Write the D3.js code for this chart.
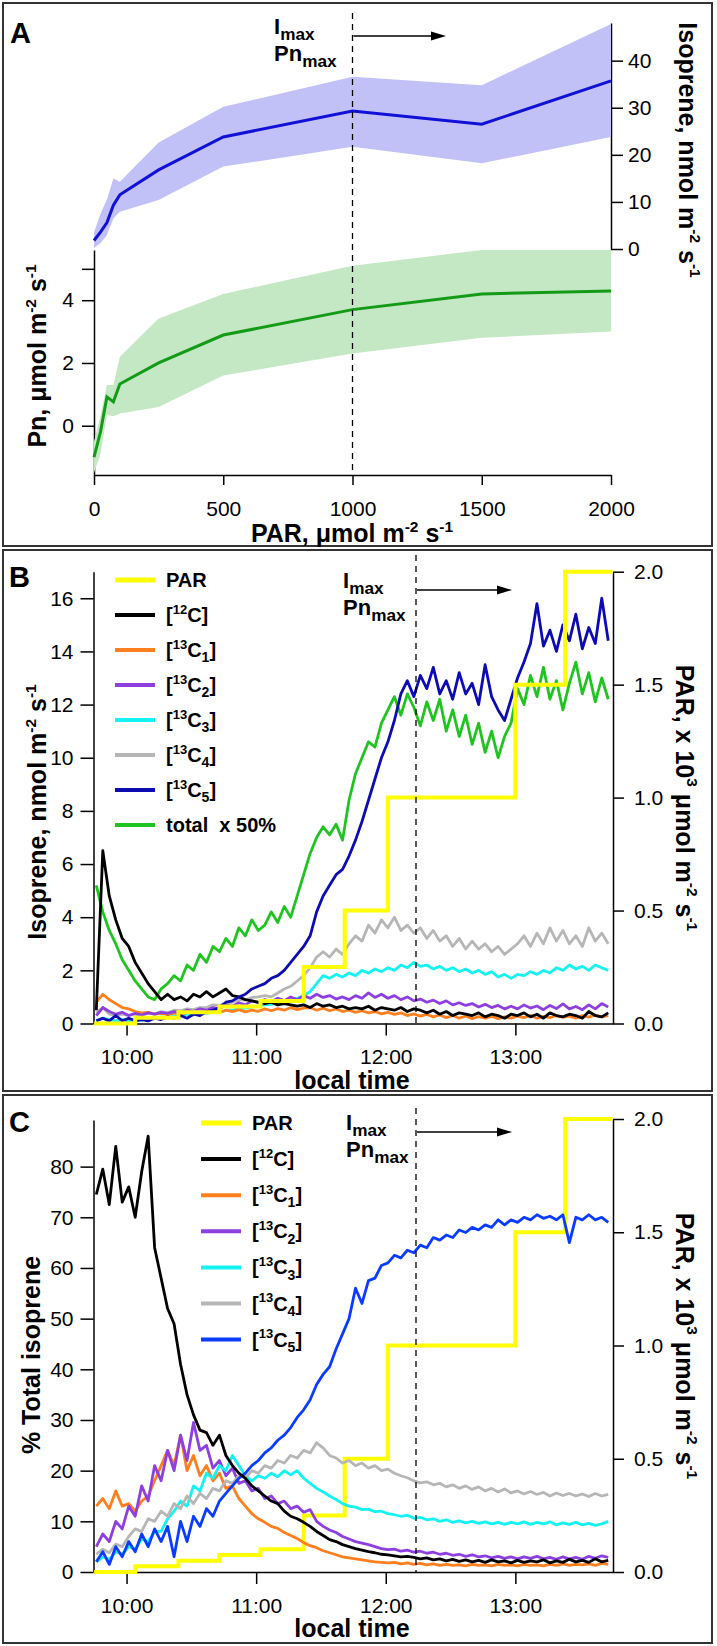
<!DOCTYPE html>
<html>
<head>
<meta charset="utf-8">
<script src="https://cdn.jsdelivr.net/npm/d3@7"></script>
<style>
body { margin: 0; background: #fff; }
</style>
</head>
<body>
<svg id="fig" width="717" height="1646"></svg>
<script>
// ---------- panel A: light response ----------
var parLevelsA = [0, 25, 50, 75, 100, 250, 500, 1000, 1500, 2000];
var isopreneMean = [1.8, 3.6, 5.6, 9.3, 11.5, 16.8, 23.8, 29.3, 26.5, 35.7];
var isopreneHigh = [3.5, 7.5, 10.5, 15.0, 14.3, 22.6, 30.2, 36.6, 34.8, 47.8];
var isopreneLow = [0.2, 1.2, 3.0, 6.5, 7.9, 10.4, 17.5, 21.7, 18.2, 23.8];
var pnMean = [-1.0, -0.2, 0.92, 0.76, 1.33, 2.0, 2.89, 3.7, 4.2, 4.29];
var pnHigh = [-0.5, 0.3, 1.3, 1.3, 2.2, 3.42, 4.2, 5.1, 5.6, 5.6];
var pnLow = [-1.5, -0.9, 0.34, 0.3, 0.39, 0.6, 1.6, 2.3, 2.8, 3.0];

// ---------- PAR program (x 10^3 umol m-2 s-1) ----------
var parStepStart = ["9:45", "10:04", "10:24", "10:43", "11:02", "11:22", "11:41", "12:01", "13:00", "13:23", "13:45"];
var parStepLevel = [0, 0.025, 0.05, 0.075, 0.1, 0.25, 0.5, 1.0, 1.5, 2.0, 2.0];
var imaxTime = "12:14";

// readings every 3 min starting 9:46
var firstSample = "9:46", sampleStep = 3;

// ---------- panel B: isoprene, nmol m-2 s-1 ----------
var isoB12C = [0.5,6.5,4.8,3.9,3.2,2.9,2.3,1.9,1.5,1.2, 0.9,1.1,0.9,1.0,0.85,1.1,1.0,1.2,1.0,1.15,
  1.3,1.05,1.0,0.9,0.85,0.8,0.75,0.8,0.7,0.75, 0.7,0.65,0.7,0.6,0.75,0.65,0.7,0.6,0.65,0.55,
  0.6,0.55,0.65,0.5,0.6,0.55,0.5,0.6,0.45,0.55, 0.5,0.4,0.5,0.35,0.45,0.3,0.4,0.35,0.3,0.4,
  0.25,0.35,0.3,0.2,0.35,0.3,0.4,0.25,0.35,0.2, 0.4,0.3,0.25,0.35,0.3,0.2,0.45,0.3,0.25,0.4];
var isoB13C1 = [0.8,1.1,0.9,0.75,0.6,0.55,0.45,0.4,0.42,0.35, 0.38,0.33,0.4,0.35,0.42,0.38,0.45,0.4,0.5,0.42,
  0.5,0.45,0.52,0.44,0.5,0.46,0.55,0.48,0.56,0.5, 0.6,0.52,0.58,0.6,0.5,0.58,0.48,0.55,0.45,0.5,
  0.42,0.48,0.4,0.45,0.36,0.42,0.34,0.4,0.3,0.36, 0.28,0.34,0.25,0.32,0.22,0.3,0.2,0.28,0.18,0.26,
  0.2,0.27,0.18,0.25,0.2,0.28,0.22,0.3,0.2,0.27, 0.22,0.3,0.24,0.28,0.2,0.3,0.24,0.32,0.25,0.3];
var isoB13C2 = [0.3,0.6,0.45,0.35,0.42,0.3,0.38,0.32,0.4,0.35, 0.42,0.38,0.45,0.4,0.5,0.45,0.55,0.5,0.6,0.55,
  0.7,0.65,0.78,0.7,0.85,0.78,0.9,0.82,0.95,0.86, 1.0,0.9,1.05,0.95,1.1,0.98,1.05,0.92,1.0,0.9,
  1.05,0.95,1.15,0.98,1.1,0.95,1.05,0.9,1.0,0.85, 0.92,0.8,0.88,0.75,0.85,0.7,0.78,0.68,0.75,0.62,
  0.72,0.6,0.68,0.55,0.65,0.55,0.7,0.58,0.66,0.52, 0.68,0.56,0.74,0.55,0.64,0.52,0.7,0.55,0.75,0.62];
var isoB13C3 = [0.1,0.2,0.15,0.1,0.15,0.1,0.15,0.12,0.2,0.18, 0.25,0.22,0.3,0.28,0.35,0.32,0.4,0.38,0.45,0.42,
  0.5,0.5,0.55,0.58,0.62,0.65,0.7,0.72,0.78,0.82, 0.88,0.95,1.05,1.2,1.5,1.8,1.7,1.85,1.75,1.9,
  1.8,2.0,1.9,2.05,1.95,2.1,2.0,2.2,2.1,2.3, 2.15,2.2,2.05,2.15,2.0,2.1,1.95,2.05,1.9,2.0,
  1.85,1.95,1.75,1.85,1.7,1.85,1.8,1.95,1.85,2.0, 1.9,2.1,2.0,2.2,2.05,2.15,2.0,2.2,2.1,2.0];
var isoB13C4 = [0.4,0.6,0.35,0.3,0.35,0.3,0.35,0.3,0.4,0.35, 0.45,0.4,0.5,0.48,0.55,0.52,0.6,0.6,0.7,0.68,
  0.78,0.8,0.9,0.88,0.98,1.0,1.05,1.0,1.15,1.3, 1.4,1.6,1.8,2.1,2.5,2.7,2.5,2.8,2.6,3.0,
  3.3,3.1,3.7,3.4,3.9,3.6,4.0,3.5,3.7,3.4, 3.6,3.2,3.5,3.1,3.3,2.9,3.2,2.8,3.1,2.8,
  3.0,2.7,2.9,2.6,2.8,3.0,3.3,2.9,3.4,3.0, 3.6,3.1,3.5,3.0,3.3,2.9,3.6,3.1,3.4,3.0];
var isoB13C5 = [0.1,0.2,0.1,0.3,0.1,0.2,0.1,0.15,0.1,0.2, 0.15,0.25,0.2,0.3,0.2,0.35,0.3,0.45,0.5,0.6,
  0.8,0.85,1.0,1.1,1.3,1.4,1.5,1.7,1.8,2.0, 2.3,2.6,2.9,3.3,4.2,4.8,5.2,5.6,5.8,6.3,
  6.9,7.6,8.4,9.2,10.0,10.6,11.4,12.4,12.9,12.3, 13.1,12.6,13.4,12.4,12.9,12.2,13.2,12.4,12.8,12.0,
  13.5,12.3,11.8,11.4,12.2,13.0,13.6,14.3,15.8,14.2, 14.8,14.0,15.0,14.4,15.4,14.1,14.9,14.3,16.0,14.4];
var isoBTotalHalf = [5.2,4.2,3.5,3.0,2.4,2.0,1.6,1.3,1.0,0.9, 1.3,1.5,1.8,1.6,2.2,2.0,2.6,2.3,2.9,2.7,
  3.2,2.9,3.6,3.3,3.9,3.5,3.7,4.2,3.8,4.4, 4.0,4.8,5.6,6.4,7.0,7.4,7.1,7.5,6.9,8.4,
  9.4,10.0,10.6,10.4,11.3,11.8,12.3,11.6,12.4,11.9, 11.2,12.1,11.4,12.2,11.0,11.8,10.8,11.6,10.5,11.3,
  10.2,11.0,10.0,10.8,11.3,12.6,12.0,13.1,12.3,13.4, 12.2,12.9,11.8,12.8,13.6,12.4,13.2,12.1,13.0,12.2];

// ---------- panel C: % of total isoprene ----------
var pctC12C = [74.5,79.5,72.5,84,73,76,70,79,86,64, 58,52,49,41,35,31,28,27.5,25,27,
  23,21,19.5,18.5,17,16,15,14,13.5,12, 11,10.5,9.8,9.0,8.0,7.2,6.4,6.0,5.4,5.0,
  4.6,4.3,4.0,3.8,3.5,3.4,3.2,3.0,3.1,2.9, 2.6,2.8,2.4,2.6,2.2,2.5,2.1,2.4,2.0,2.3,
  1.9,2.4,2.0,2.2,1.8,2.3,1.9,2.2,2.0,2.4, 1.8,2.2,1.9,2.5,2.0,2.3,1.9,2.6,2.0,2.3];
var pctC13C1 = [13,14.5,12.5,16,13,13.5,12,14,15,18, 21,24,21,27,20,23,19,21,18,19.5,
  16.5,17,14.5,13,11.5,10.5,9.8,9.0,8.6,7.8, 7.2,6.6,5.8,5.2,4.8,4.2,3.8,3.4,3.0,2.8,
  2.6,2.4,2.2,2.0,1.9,1.8,1.9,1.6,1.8,1.5, 1.7,1.4,1.6,1.3,1.5,1.3,1.4,1.2,1.5,1.3,
  1.4,1.2,1.5,1.3,1.4,1.2,1.5,1.3,1.4,1.2, 1.5,1.3,1.6,1.3,1.5,1.4,1.6,1.3,1.7,1.5];
var pctC13C2 = [5,7.5,6,10,8.5,13,11,17,14,21, 18,24,20,27,22,29.5,24,25,20.5,22,
  19,20.5,17.5,18,16,16.5,14.5,15,13.5,14, 12.5,13,11.8,12.3,10,9,8.3,7.8,7.0,6.5,
  6.0,5.7,5.4,5.0,4.6,4.4,4.5,4.1,4.3,3.9, 4.1,3.7,3.9,3.5,3.7,3.3,3.5,3.1,3.4,3.0,
  3.2,2.8,3.1,2.7,3.0,2.6,3.0,2.7,3.1,2.6, 2.9,2.5,3.0,2.6,2.9,2.5,3.1,2.7,3.2,2.9];
var pctC13C3 = [2,3,2.5,4,3.5,5,4.5,6.5,6,8, 8,10.5,12,14,13,17,16,19.5,18.5,21,
  20,23,21,19,18,19,18.5,19.5,18.8,20, 19.2,20,18.5,17.5,16.5,15.8,15,14.3,13.5,13,
  12.8,12.3,12.4,11.9,12.0,11.5,11.3,11.0,11.2,10.6, 10.8,10.3,10.5,10.0,10.3,9.8,10.1,9.7,10.0,9.6,
  9.9,9.5,9.8,9.4,9.8,9.5,9.9,9.4,9.8,9.5, 9.9,9.3,9.7,9.4,9.8,9.3,9.6,9.2,9.5,10.0];
var pctC13C4 = [3.5,4.5,3.8,5.5,5,7,8.5,8,10.5,10, 12,11,13.5,12.5,15,13.5,15.5,14.5,16.5,16,
  18,17.5,19,18.5,20,19.5,21,20.5,22,21.5, 23,22.5,24,23.5,25.5,24.5,23,22.5,21.5,22,
  21,21.5,20.5,21,20,20.3,19.5,19,18.6,18, 17.6,17.8,17.2,17.5,16.8,17.2,16.5,17,16.3,16.8,
  16.0,16.5,15.8,16.4,15.6,16,15.4,15.9,15.3,15.7, 15.0,15.6,15.1,15.5,15.0,15.4,14.9,15.5,15.0,15.3];
var pctC13C5 = [2,4,1.5,5,3,6,4,7.5,5,8.5, 6,9,3,10,6,11,9,12.5,11,14,
  15.5,17,18.5,19.5,21,22,23.5,24.5,26,27, 28.5,30.5,32,34,37,39,40.5,44,47,50,
  56,53,57.5,58,60.5,61,62.5,62,63.5,63, 64.5,64,66,65.5,66.5,66,67.5,67,68,67.5,
  68.5,68,69.5,68.5,69.5,69,70,69.5,70.5,69.8, 70.2,69.5,70.5,65,70,69.5,70.5,69.5,70,69];

var FONT = '"Liberation Sans", Arial, Helvetica, sans-serif';
var svg = d3.select("#fig").attr("font-family", FONT);

var hours = function (s) {
    var p = s.split(":");
    return +p[0] + (+p[1]) / 60;
};
var sampleTimes = isoB12C.map(function (d, i) {
    return hours(firstSample) + i * sampleStep / 60;
});

// text with ^{sup} and _{sub} parts
var richText = function (parent, x, y, str, size, opts) {
    opts = opts || {};
    var t = parent.append("text")
        .attr("x", x)
        .attr("y", y)
        .attr("font-size", size)
        .attr("font-weight", opts.weight || "bold")
        .attr("text-anchor", opts.anchor || "start")
        .attr("fill", "#000")
        .style("white-space", "pre");
    if (opts.rotate) t.attr("transform", `rotate(${opts.rotate},${x},${y})`);
    var shift = 0;
    str.split(/(\^\{[^}]*\}|_\{[^}]*\})/).forEach(function (piece) {
        if (!piece) return;
        var target = 0, fs = size, s = piece;
        if (piece[0] === "^") {
            target = -0.42 * size; fs = (opts.supScale || 0.62) * size; s = piece.slice(2, -1);
        } else if (piece[0] === "_") {
            target = 0.26 * size; fs = (opts.subScale || 0.7) * size; s = piece.slice(2, -1);
        }
        t.append("tspan").attr("dy", target - shift).attr("font-size", fs).text(s);
        shift = target;
    });
    return t;
};

var axisAt = function (axis, tx, ty) {
    var g = svg.append("g").attr("transform", `translate(${tx},${ty})`).call(axis);
    g.attr("font-family", FONT).attr("font-size", 21);
    g.selectAll(".domain, .tick line").attr("stroke", "#000").attr("stroke-width", 1.5);
    g.selectAll(".tick text").attr("fill", "#000");
    return g;
};

var frame = function (y0, y1) {
    svg.append("rect")
        .attr("x", 3).attr("y", y0)
        .attr("width", 709).attr("height", y1 - y0)
        .attr("fill", "none")
        .attr("stroke", "#333")
        .attr("stroke-width", 2);
};

var imaxMarker = function (x, yTop, yBottom, arrowY, arrowEnd, textX) {
    svg.append("line")
        .attr("x1", x).attr("x2", x).attr("y1", yTop).attr("y2", yBottom)
        .attr("stroke", "#000").attr("stroke-width", 1.3).attr("stroke-dasharray", "6,5");
    svg.append("line")
        .attr("x1", x + 1).attr("x2", arrowEnd - 12).attr("y1", arrowY).attr("y2", arrowY)
        .attr("stroke", "#000").attr("stroke-width", 1.6);
    svg.append("path")
        .attr("d", `M${arrowEnd},${arrowY}L${arrowEnd - 15},${arrowY - 4.5}L${arrowEnd - 15},${arrowY + 4.5}Z`)
        .attr("fill", "#000");
    richText(svg, textX, arrowY - 2, "I_{max}", 22, { subScale: 0.78 });
    richText(svg, textX, arrowY + 25, "Pn_{max}", 22, { subScale: 0.78 });
};

var legend = function (x0, y0, rowH, items) {
    items.forEach(function (item, k) {
        var y = y0 + k * rowH;
        svg.append("line")
            .attr("x1", x0).attr("x2", x0 + 40).attr("y1", y).attr("y2", y)
            .attr("stroke", item.color).attr("stroke-width", item.width || 4);
        richText(svg, x0 + 51, y + 7, item.label, 20, { supScale: 0.65 });
    });
};

var seriesLine = function (x, y, values, color, width) {
    var line = d3.line()
        .x(function (d, i) { return x(sampleTimes[i]); })
        .y(function (d) { return y(d); });
    svg.append("path").datum(values)
        .attr("d", line)
        .attr("fill", "none")
        .attr("stroke", color)
        .attr("stroke-width", width || 2.8)
        .attr("stroke-linejoin", "round");
};

var parLine = function (x, y) {
    var line = d3.line()
        .curve(d3.curveStepAfter)
        .x(function (d) { return x(hours(d)); })
        .y(function (d, i) { return y(parStepLevel[i]); });
    svg.append("path").datum(parStepStart)
        .attr("d", line)
        .attr("fill", "none")
        .attr("stroke", "#ffff00")
        .attr("stroke-width", 4);
};

var colors = {
    par: "#ffff00", c12: "#000000", c1: "#ff7f1e", c2: "#8e3fe0", c3: "#14f2f2",
    c4: "#b6b6b6", c5B: "#0c0cb0", c5C: "#0a3cff", total: "#20c420"
};

// ================= panel A =================
frame(3, 546);
var xPar = d3.scaleLinear().domain([0, 2000]).range([94, 611]);
var yPn = d3.scaleLinear().domain([-1.57, 5.6]).range([475, 250]);
var yIso = d3.scaleLinear().domain([0, 48]).range([249, 23]);

axisAt(d3.axisBottom(xPar).tickValues([0, 500, 1000, 1500, 2000])
    .tickFormat(function (d) { return String(d); })
    .tickSize(10).tickPadding(16).tickSizeOuter(0), 0, 475);
axisAt(d3.axisLeft(yPn).tickValues([0, 2, 4, 5])
    .tickFormat(function (d) { return d === 5 ? "" : d; })
    .tickSize(12).tickPadding(8).tickSizeOuter(0), 94, 0);
axisAt(d3.axisRight(yIso).tickValues([0, 10, 20, 30, 40])
    .tickSize(12).tickPadding(5).tickSizeOuter(0), 611, 0);

var bandA = function (low, high, y, fill) {
    var area = d3.area()
        .x(function (d) { return xPar(d); })
        .y0(function (d, i) { return y(low[i]); })
        .y1(function (d, i) { return y(high[i]); });
    svg.append("path").datum(parLevelsA).attr("d", area).attr("fill", fill);
};
var lineA = function (vals, y, color) {
    var line = d3.line()
        .x(function (d) { return xPar(d); })
        .y(function (d, i) { return y(vals[i]); });
    svg.append("path").datum(parLevelsA).attr("d", line)
        .attr("fill", "none").attr("stroke", color).attr("stroke-width", 3);
};
bandA(pnLow, pnHigh, yPn, "#c4e7c4");
bandA(isopreneLow, isopreneHigh, yIso, "#c1c1f7");
lineA(pnMean, yPn, "#139a16");
lineA(isopreneMean, yIso, "#1010d6");

imaxMarker(xPar(1000), 13, 475, 36, 446, 274);
richText(svg, 10, 43, "A", 29);
richText(svg, 46, 356, "Pn, μmol m^{-2} s^{-1}", 25, { anchor: "middle", rotate: -90 });
richText(svg, 679, 150, "Isoprene, nmol m^{-2} s^{-1}", 25, { anchor: "middle", rotate: 90 });
richText(svg, 352, 542, "PAR, μmol m^{-2} s^{-1}", 25, { anchor: "middle" });

// ================= panel B =================
frame(550, 1091);
var xTime = d3.scaleLinear().domain([hours("9:44.7"), hours("13:45.2")]).range([93.5, 613]);
var timeAxis = function () {
    return d3.axisBottom(xTime).tickValues([10, 11, 12, 13])
        .tickFormat(function (d) { return d + ":00"; })
        .tickSize(12).tickPadding(14).tickSizeOuter(0);
};
var parAxis = function (y) {
    return d3.axisRight(y).tickValues([0, 0.5, 1, 1.5, 2]).tickFormat(d3.format(".1f"))
        .tickSize(11).tickPadding(10).tickSizeOuter(0);
};
var yB = d3.scaleLinear().domain([0, 17]).range([1023.5, 571.7]);
var yParB = d3.scaleLinear().domain([0, 2]).range([1023.5, 571.7]);

axisAt(timeAxis(), 0, 1023.5);
axisAt(d3.axisLeft(yB).tickValues(d3.range(0, 17, 2)).tickSize(13).tickPadding(7).tickSizeOuter(0), 93.5, 0);
axisAt(parAxis(yParB), 613, 0);

seriesLine(xTime, yB, isoBTotalHalf, colors.total);
seriesLine(xTime, yB, isoB13C4, colors.c4);
seriesLine(xTime, yB, isoB13C3, colors.c3);
seriesLine(xTime, yB, isoB13C1, colors.c1);
seriesLine(xTime, yB, isoB13C2, colors.c2);
seriesLine(xTime, yB, isoB12C, colors.c12);
seriesLine(xTime, yB, isoB13C5, colors.c5B);
parLine(xTime, yParB);

imaxMarker(xTime(hours(imaxTime)), 555, 1023.5, 590, 512, 343);
legend(115, 580, 35, [
    { label: "PAR", color: colors.par, width: 5 },
    { label: "[^{12}C]", color: colors.c12 },
    { label: "[^{13}C_{1}]", color: colors.c1 },
    { label: "[^{13}C_{2}]", color: colors.c2 },
    { label: "[^{13}C_{3}]", color: colors.c3 },
    { label: "[^{13}C_{4}]", color: colors.c4 },
    { label: "[^{13}C_{5}]", color: colors.c5B },
    { label: "total  x 50%", color: colors.total }
]);
richText(svg, 9, 587, "B", 29);
richText(svg, 46, 812, "Isoprene, nmol m^{-2} s^{-1}", 25, { anchor: "middle", rotate: -90 });
richText(svg, 676, 798, "PAR, x 10^{3} μmol m^{-2} s^{-1}", 25, { anchor: "middle", rotate: 90 });
richText(svg, 352, 1089, "local time", 25, { anchor: "middle" });

// ================= panel C =================
frame(1095, 1643);
var yC = d3.scaleLinear().domain([0, 89.2]).range([1572, 1120]);
var yParC = d3.scaleLinear().domain([0, 2]).range([1572, 1119]);

axisAt(timeAxis(), 0, 1572);
axisAt(d3.axisLeft(yC).tickValues(d3.range(0, 81, 10)).tickSize(13).tickPadding(7).tickSizeOuter(0), 93.5, 0);
axisAt(parAxis(yParC), 613, 0);

parLine(xTime, yParC);
seriesLine(xTime, yC, pctC13C1, colors.c1);
seriesLine(xTime, yC, pctC13C2, colors.c2);
seriesLine(xTime, yC, pctC13C3, colors.c3);
seriesLine(xTime, yC, pctC13C4, colors.c4);
seriesLine(xTime, yC, pctC13C5, colors.c5C);
seriesLine(xTime, yC, pctC12C, colors.c12);

imaxMarker(xTime(hours(imaxTime)), 1108, 1572, 1132, 512, 346);
legend(201, 1123, 36.1, [
    { label: "PAR", color: colors.par, width: 5 },
    { label: "[^{12}C]", color: colors.c12 },
    { label: "[^{13}C_{1}]", color: colors.c1 },
    { label: "[^{13}C_{2}]", color: colors.c2 },
    { label: "[^{13}C_{3}]", color: colors.c3 },
    { label: "[^{13}C_{4}]", color: colors.c4 },
    { label: "[^{13}C_{5}]", color: colors.c5C }
]);
richText(svg, 9, 1132, "C", 29);
richText(svg, 40, 1355, "% Total isoprene", 25, { anchor: "middle", rotate: -90 });
richText(svg, 676, 1346, "PAR, x 10^{3} μmol m^{-2} s^{-1}", 25, { anchor: "middle", rotate: 90 });
richText(svg, 352, 1637, "local time", 25, { anchor: "middle" });
</script>
</body>
</html>
